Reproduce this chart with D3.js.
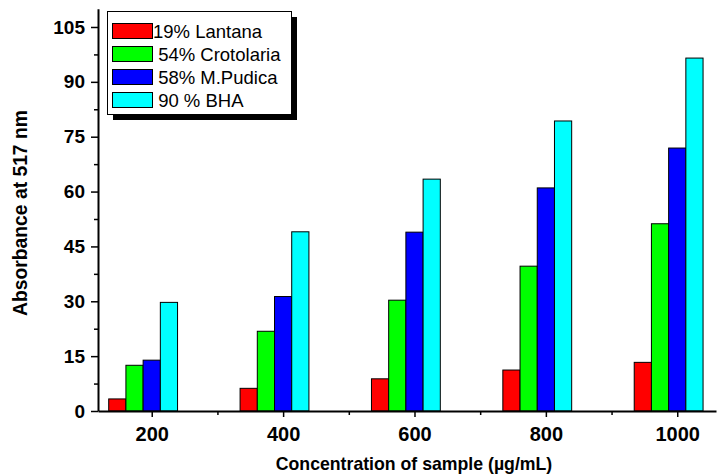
<!DOCTYPE html>
<html><head><meta charset="utf-8">
<script src="https://cdn.jsdelivr.net/npm/d3@7"></script>
<style>
body{margin:0;background:#fff}
svg{display:block;font-family:"Liberation Sans",Arial,sans-serif}
</style>
</head><body>
<svg id="c" width="718" height="476"></svg>
<script>
const categories=[200,400,600,800,1000];
const seriesNames=["19% Lantana"," 54% Crotolaria"," 58% M.Pudica"," 90 % BHA"];
const seriesColors=["#ff0000","#00ff00","#0000ff","#00ffff"];
const lantana=[3.3,6.2,8.8,11.2,13.3];
const crotolaria=[12.5,21.8,30.3,39.6,51.2];
const pudica=[13.9,31.3,48.9,61.0,71.9];
const bha=[29.7,49.0,63.4,79.3,96.5];
const yTicks=[0,15,30,45,60,75,90,105];
const yMinorTicks=[7.5,22.5,37.5,52.5,67.5,82.5,97.5];
const xTickLabels=["200","400","600","800","1000"];
const xMinorTicks=[300,500,700,900];
const xTitle="Concentration of sample (µg/mL)";
const yTitle="Absorbance at 517 nm";

const series=[lantana,crotolaria,pudica,bha];
const svg=d3.select("#c");
const x=d3.scaleLinear().domain([118.2,1059]).range([98,716]);
const y=d3.scaleLinear().domain([0,110]).range([411,8.7]);
const barW=26.2; // data units
const offsets=[-2.5,-1.5,-0.5,0.5];

// bars
series.forEach((vals,si)=>{
  svg.append("g").selectAll("rect").data(vals).join("rect")
    .attr("x",(d,i)=>x(categories[i]+offsets[si]*barW))
    .attr("width",x(barW)-x(0))
    .attr("y",d=>y(d))
    .attr("height",d=>y(0)-y(d))
    .attr("fill",seriesColors[si])
    .attr("stroke","#000").attr("stroke-width",1);
});

// y axis
const ya=svg.append("g").attr("transform","translate(98,0)")
  .call(d3.axisLeft(y).tickValues(yTicks).tickSize(7).tickSizeOuter(0).tickPadding(6));
ya.selectAll("text").style("font-size","19px").style("font-weight","bold").attr("fill","#000");
ya.select(".domain").attr("stroke-width",2);
ya.selectAll(".tick line").attr("stroke-width",1.5);
const ym=svg.append("g").attr("transform","translate(98,0)")
  .call(d3.axisLeft(y).tickValues(yMinorTicks).tickSize(4).tickSizeOuter(0).tickFormat(""));
ym.select(".domain").remove();
ym.selectAll(".tick line").attr("stroke-width",1.5);

// x axis
const xa=svg.append("g").attr("transform","translate(0,411)")
  .call(d3.axisBottom(x).tickValues(categories).tickFormat((d,i)=>xTickLabels[i]).tickSize(6).tickSizeOuter(0).tickPadding(10));
xa.selectAll("text").style("font-size","20px").style("font-weight","bold").attr("fill","#000");
xa.select(".domain").attr("stroke-width",2);
xa.selectAll(".tick line").attr("stroke-width",1.5);
const xm=svg.append("g").attr("transform","translate(0,411)")
  .call(d3.axisBottom(x).tickValues(xMinorTicks).tickSize(4).tickSizeOuter(0).tickFormat(""));
xm.select(".domain").remove();
xm.selectAll(".tick line").attr("stroke-width",1.5);

// titles
svg.append("text").attr("x",414).attr("y",470).attr("text-anchor","middle")
  .style("font-size","17.7px").style("font-weight","bold").text(xTitle);
svg.append("text").attr("transform","translate(26.5,213) rotate(-90)").attr("text-anchor","middle")
  .style("font-size","19.3px").style("font-weight","bold").text(yTitle);

// legend
const lg=svg.append("g");
lg.append("rect").attr("x",113).attr("y",17).attr("width",184).attr("height",103).attr("fill","#000");
lg.append("rect").attr("x",107.5).attr("y",11.5).attr("width",184).attr("height",103).attr("fill","#fff").attr("stroke","#000").attr("stroke-width",1);
seriesNames.forEach((n,i)=>{
  const yy=23.5+i*23;
  lg.append("rect").attr("x",112.5).attr("y",yy).attr("width",40).attr("height",15)
    .attr("fill",seriesColors[i]).attr("stroke","#000").attr("stroke-width",1);
  lg.append("text").attr("x",153).attr("y",yy+14).style("font-size","18.5px").style("white-space","pre").text(n);
});
</script>
</body></html>
